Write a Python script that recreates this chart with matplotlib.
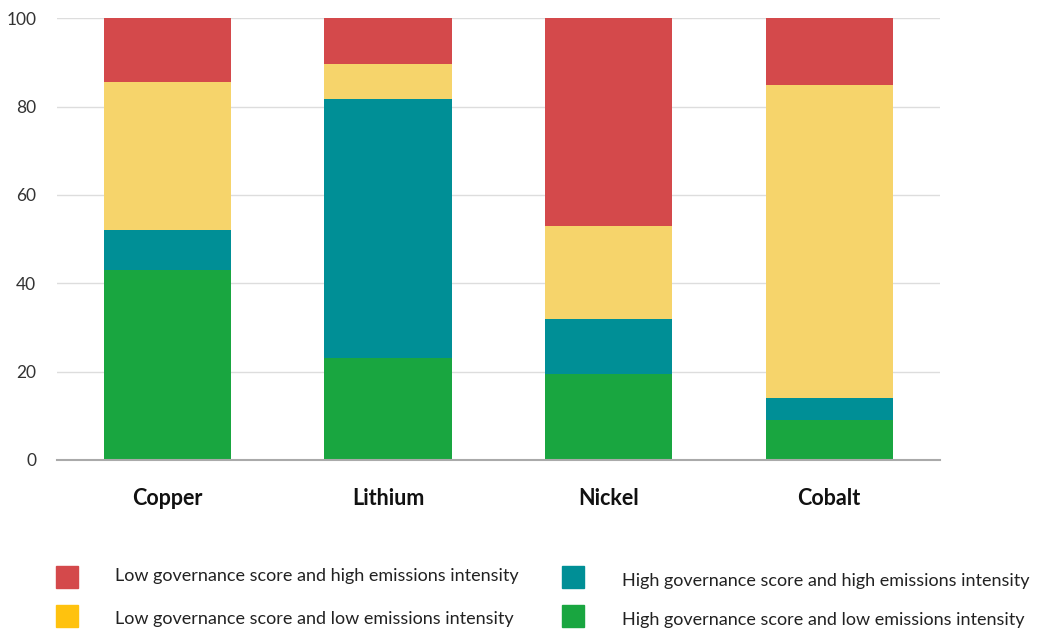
import matplotlib.pyplot as plt
from matplotlib.patches import Rectangle
import numpy as np

plt.rcParams['font.family'] = ['Lato', 'DejaVu Sans']

# data (share of production, %)
minerals = ['Copper', 'Lithium', 'Nickel', 'Cobalt']
high_gov_low_em = [43, 23, 19.5, 9]
high_gov_high_em = [9, 58.7, 12.5, 5]
low_gov_low_em = [33.5, 8, 21, 71]
low_gov_high_em = [14.5, 10.3, 47, 15]

series_labels = [
    'High governance score and low emissions intensity',
    'High governance score and high emissions intensity',
    'Low governance score and low emissions intensity',
    'Low governance score and high emissions intensity',
]
bar_colors = ['#19A640', '#008F96', '#F6D46B', '#D4494B']
legend_colors = ['#19A640', '#008F96', '#FFC20E', '#D4494B']

fig = plt.figure(figsize=(10.37, 6.3), dpi=100)
ax = fig.add_axes([0.055, 0.27, 0.851, 0.701])

x = np.arange(len(minerals))
bottom = np.zeros(len(minerals))
for vals, col in zip([high_gov_low_em, high_gov_high_em, low_gov_low_em, low_gov_high_em], bar_colors):
    ax.bar(x, vals, bottom=bottom, width=0.576, color=col, zorder=3)
    bottom += np.array(vals)

ax.set_xlim(-0.5, 3.5)
ax.set_ylim(0, 100)
ax.set_yticks(range(0, 101, 20))
ax.grid(axis='y', color='#DDDDDD', linewidth=1, zorder=0)
for s in ['top', 'right', 'left']:
    ax.spines[s].set_visible(False)
ax.spines['bottom'].set_color('#AAAAAA')
ax.spines['bottom'].set_linewidth(1.5)
ax.spines['bottom'].set_zorder(4)
ax.tick_params(axis='y', length=0, pad=15, labelsize=12.5, labelcolor='#333333')
ax.tick_params(axis='x', length=0, pad=20)
ax.set_xticks(x)
ax.set_xticklabels(minerals, fontsize=15.5, fontweight='bold', color='#111111')

# legend drawn by hand in two columns
W, H = 1037, 630
legend_items = [
    (56, 577, 576, legend_colors[3], series_labels[3], 115),
    (56, 616, 619, legend_colors[2], series_labels[2], 115),
    (562, 577, 581, legend_colors[1], series_labels[1], 622),
    (562, 616, 620, legend_colors[0], series_labels[0], 622),
]
for mx, my, ty, col, lab, tx in legend_items:
    fig.add_artist(Rectangle((mx / W, 1 - (my + 11) / H), 22 / W, 22 / H,
                             transform=fig.transFigure, color=col))
    fig.text(tx / W, 1 - ty / H, lab, fontsize=13, color='#222222',
             ha='left', va='center')

plt.savefig('out.png', dpi=100, facecolor='white')
